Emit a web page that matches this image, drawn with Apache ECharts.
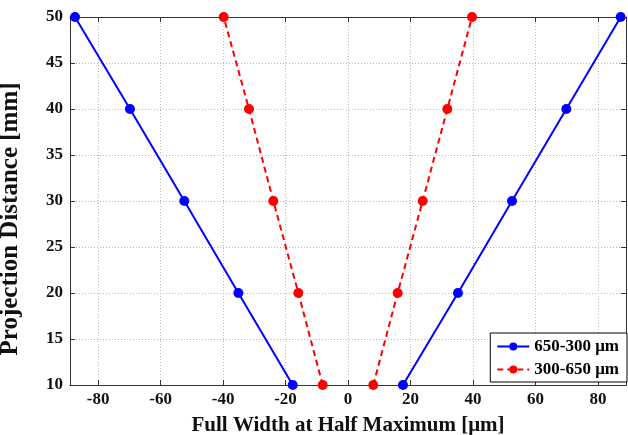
<!DOCTYPE html>
<html>
<head>
<meta charset="utf-8">
<script src="https://cdn.jsdelivr.net/npm/echarts@6/dist/echarts.min.js"></script>
<style>
    html, body { margin: 0; padding: 0; background: #fff; }
    #chart { width: 628px; height: 435px; }
</style>
</head>
<body>
<div id="chart"></div>
<script>
// distances (mm)
var distance = [10, 20, 30, 40, 50];
// FWHM values (um)
var blueLeft = [-17.7, -35.1, -52.4, -69.8, -87.4];
var blueRight = [17.6, 35.2, 52.5, 69.9, 87.3];
var redLeft = [-8.1, -15.9, -23.9, -31.7, -39.8];
var redRight = [8.1, 15.9, 23.9, 31.8, 39.7];
// x tick positions
var xTicks = [-80, -60, -40, -20, 0, 20, 40, 60, 80];

var nameBlue = '650-300 μm';
var nameRed = '300-650 μm';
var font = 'Liberation Serif';

function pairs(xs) {
    var out = [];
    for (var i = 0; i < xs.length; i++) {
        out.push([xs[i], distance[i]]);
    }
    return out;
}

function lineSeries(name, color, dashed, xs) {
    return {
        name: name,
        type: 'line',
        xAxisIndex: 0,
        yAxisIndex: 0,
        data: pairs(xs),
        symbol: 'circle',
        symbolSize: 10,
        itemStyle: { color: color },
        lineStyle: { color: color, width: 2, type: dashed ? [6, 4] : 'solid' },
        animation: false
    };
}

var gridLine = { show: true, lineStyle: { color: '#b8b8b8', type: [1, 2], width: 1 } };
var axisLine = { show: true, onZero: false, lineStyle: { color: '#333', width: 1 } };
var tickStyle = { color: '#333' };
var tickLabel = { fontFamily: font, fontWeight: 'bold', fontSize: 17, color: '#111' };
var nameStyle = { fontFamily: font, fontWeight: 'bold', color: '#111' };

var myChart = echarts.init(document.getElementById('chart'));
var option = {
    backgroundColor: '#fff',
    grid: { left: 70, right: 2, top: 17, bottom: 50, containLabel: false, outerBoundsMode: 'none' },
    legend: {
        right: 1,
        bottom: 53,
        orient: 'vertical',
        data: [nameBlue, nameRed],
        backgroundColor: '#fff',
        borderColor: '#000',
        borderWidth: 1,
        borderRadius: 0,
        padding: [5, 8, 4, 6],
        itemGap: 6,
        itemWidth: 32,
        itemHeight: 10,
        textStyle: { fontFamily: font, fontWeight: 'bold', fontSize: 17, color: '#000' }
    },
    xAxis: [{
        type: 'value',
        min: -89,
        max: 89,
        axisLine: axisLine,
        axisTick: { show: true, inside: true, length: 5, lineStyle: tickStyle, customValues: xTicks },
        axisLabel: Object.assign({ margin: 6, customValues: xTicks }, tickLabel),
        splitLine: gridLine,
        name: 'Full Width at Half Maximum [μm]',
        nameLocation: 'middle',
        nameGap: 30,
        nameTextStyle: Object.assign({ fontSize: 21 }, nameStyle)
    }, {
        type: 'value',
        position: 'top',
        min: -89,
        max: 89,
        axisLine: axisLine,
        axisTick: { show: true, inside: true, length: 5, lineStyle: tickStyle, customValues: xTicks },
        axisLabel: { show: false, customValues: xTicks },
        splitLine: { show: false }
    }],
    yAxis: [{
        type: 'value',
        min: 10,
        max: 50,
        interval: 5,
        axisLine: axisLine,
        axisTick: { show: true, inside: true, length: 5, lineStyle: tickStyle },
        axisLabel: Object.assign({ margin: 7 }, tickLabel),
        splitLine: gridLine,
        name: 'Projection Distance [mm]',
        nameLocation: 'middle',
        nameGap: 47,
        nameTextStyle: Object.assign({ fontSize: 25, padding: [0, 36, 0, 0] }, nameStyle)
    }, {
        type: 'value',
        position: 'right',
        min: 10,
        max: 50,
        interval: 5,
        axisLine: axisLine,
        axisTick: { show: true, inside: true, length: 5, lineStyle: tickStyle },
        axisLabel: { show: false },
        splitLine: { show: false }
    }],
    series: [
        lineSeries(nameBlue, '#0000ff', false, blueLeft),
        lineSeries(nameBlue, '#0000ff', false, blueRight),
        lineSeries(nameRed, '#ff0000', true, redLeft),
        lineSeries(nameRed, '#ff0000', true, redRight)
    ]
};
myChart.setOption(option);
</script>
</body>
</html>
